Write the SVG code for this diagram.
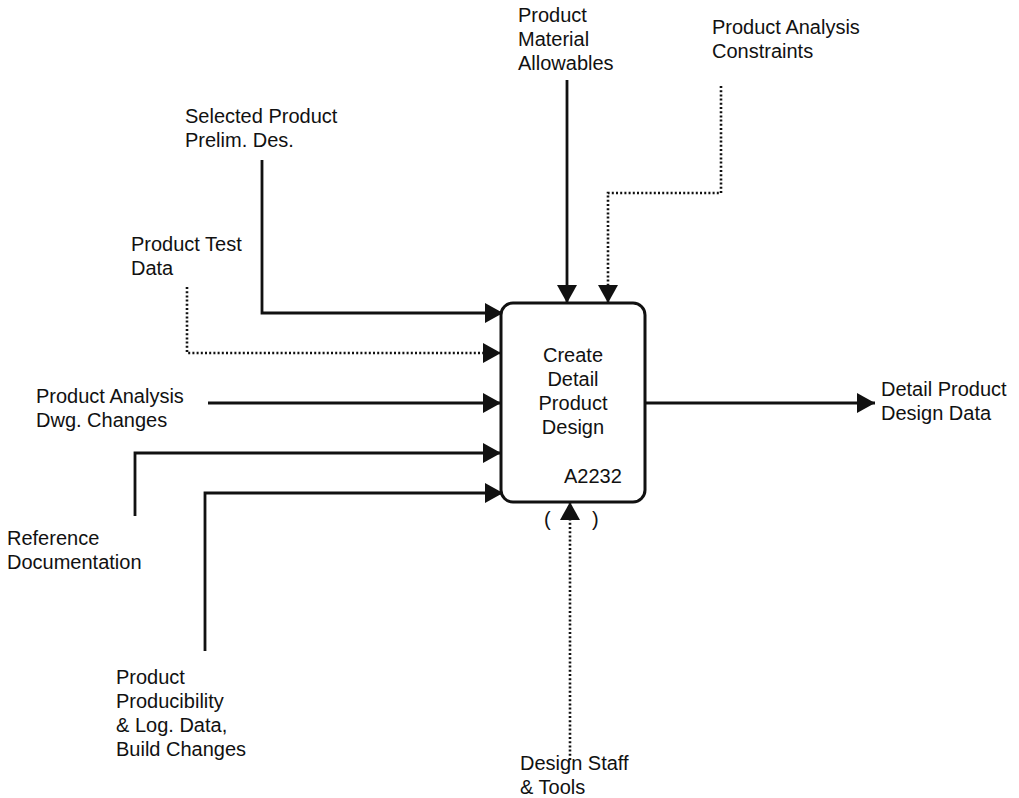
<svg xmlns="http://www.w3.org/2000/svg" width="1019" height="798" viewBox="0 0 1019 798">
<style>
text{font-family:"Liberation Sans",Arial,sans-serif;font-size:20px;fill:#111}
.c{text-anchor:middle}
.ln{fill:none;stroke:#111;stroke-width:2.8}
.dt{fill:none;stroke:#111;stroke-width:2.6;stroke-dasharray:2 2.2}
</style>
<defs>
<marker id="ah" markerUnits="userSpaceOnUse" markerWidth="18" markerHeight="20" refX="18" refY="10" orient="auto">
<path d="M0,0 L18,10 L0,20 Z" fill="#111"/>
</marker>
</defs>
<rect width="1019" height="798" fill="#fff"/>
<g id="connectors">
<path class="ln" d="M567,80 V303" marker-end="url(#ah)"/>
<path class="dt" d="M721,86 V193 H608 V303" marker-end="url(#ah)"/>
<path class="ln" d="M262,160 V313 H503" marker-end="url(#ah)"/>
<path class="dt" d="M187,287 V353 H501" marker-end="url(#ah)"/>
<path class="ln" d="M208,403 H501" marker-end="url(#ah)"/>
<path class="ln" d="M135,516 V453 H501" marker-end="url(#ah)"/>
<path class="ln" d="M205,651 V493 H503" marker-end="url(#ah)"/>
<path class="ln" d="M645,403 H875" marker-end="url(#ah)"/>
<path class="dt" d="M570,760 V502" marker-end="url(#ah)"/>
</g>
<g id="A2232">
<rect x="501" y="303" width="144" height="199" rx="12" ry="12" fill="#fff" stroke="#111" stroke-width="3"/>
<text class="c" x="573" y="362">Create</text>
<text class="c" x="573" y="386">Detail</text>
<text class="c" x="573" y="410">Product</text>
<text class="c" x="573" y="434">Design</text>
<text x="564" y="483">A2232</text>
<text x="544" y="526">(</text>
<text x="592" y="526">)</text>
</g>
<g id="lbl-material">
<text x="518" y="22">Product</text>
<text x="518" y="46">Material</text>
<text x="518" y="70">Allowables</text>
</g>
<g id="lbl-constraints">
<text x="712" y="34">Product Analysis</text>
<text x="712" y="58">Constraints</text>
</g>
<g id="lbl-selected">
<text x="185" y="123">Selected Product</text>
<text x="185" y="147">Prelim. Des.</text>
</g>
<g id="lbl-test">
<text x="131" y="251">Product Test</text>
<text x="131" y="275">Data</text>
</g>
<g id="lbl-dwg">
<text x="36" y="403">Product Analysis</text>
<text x="36" y="427">Dwg. Changes</text>
</g>
<g id="lbl-ref">
<text x="7" y="545">Reference</text>
<text x="7" y="569">Documentation</text>
</g>
<g id="lbl-prod">
<text x="116" y="684">Product</text>
<text x="116" y="708">Producibility</text>
<text x="116" y="732">&amp; Log. Data,</text>
<text x="116" y="756">Build Changes</text>
</g>
<g id="lbl-staff">
<text x="520" y="770">Design Staff</text>
<text x="520" y="794">&amp; Tools</text>
</g>
<g id="lbl-output">
<text x="881" y="396">Detail Product</text>
<text x="881" y="420">Design Data</text>
</g>
</svg>
